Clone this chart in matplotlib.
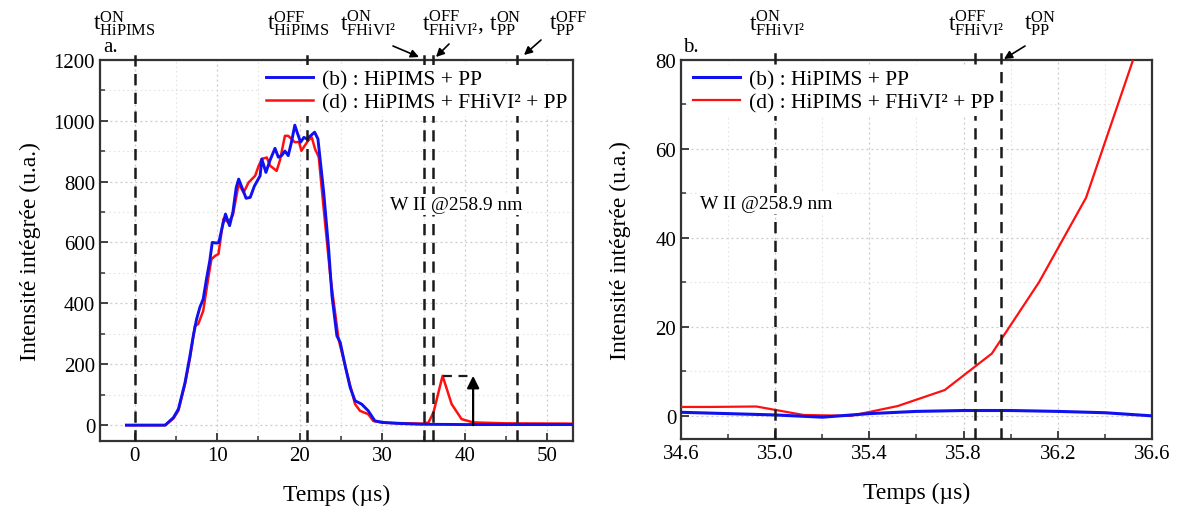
import matplotlib
matplotlib.use("Agg")
import matplotlib.pyplot as plt
from matplotlib.ticker import MultipleLocator, FixedLocator, FormatStrFormatter

plt.rcParams['font.family'] = ['Liberation Serif', 'DejaVu Serif']
plt.rcParams['mathtext.fontset'] = 'custom'
plt.rcParams['mathtext.rm'] = 'Liberation Serif'
plt.rcParams['mathtext.it'] = 'Liberation Serif:italic'

# ---------------- data: panel a ----------------
t_b = [-1.0, 3.7, 4.7, 5.3, 6.1, 6.7, 7.1, 7.5, 7.9, 8.3, 8.7, 9.1, 9.4, 9.9, 10.2, 10.6,
       11.0, 11.5, 11.9, 12.3, 12.6, 13.0, 13.5, 14.0, 14.5, 15.2, 15.4, 15.9, 16.4, 17.0,
       17.4, 17.8, 18.2, 18.6, 19.0, 19.4, 19.7, 20.1, 20.5, 20.85, 21.3, 21.8, 22.2, 22.9,
       23.5, 23.9, 24.5, 24.9, 25.5, 26.1, 26.7, 27.5, 28.3, 29.1, 30.1, 31.7, 34.6, 40.0, 53.0]
i_b = [0, 0, 25, 53, 140, 228, 293, 348, 387, 414, 480, 540, 600, 598, 600, 650,
       693, 655, 700, 780, 808, 780, 745, 748, 785, 819, 874, 830, 870, 909,
       880, 885, 900, 885, 930, 985, 960, 929, 945, 940, 950, 962, 940, 764,
       578, 425, 293, 272, 195, 124, 80, 69, 47, 14, 9, 6, 3, 2, 2]

t_d = [-1.0, 3.7, 4.7, 5.3, 6.1, 6.7, 7.3, 7.7, 8.3, 8.9, 9.3, 9.75, 10.15, 10.75, 11.36,
       11.9, 12.6, 13.2, 13.8, 14.6, 15.0, 15.4, 16.0, 16.4, 17.2, 17.6, 18.2, 18.6, 19.4,
       19.9, 20.2, 21.0, 21.45, 21.85, 22.3, 22.9, 23.7, 24.7, 25.7, 26.7, 27.3, 28.3, 28.9,
       30.0, 35.0, 35.6, 36.2, 37.3, 38.4, 39.6, 41.0, 45.0, 53.0]
i_d = [0, 0, 22, 48, 135, 220, 326, 332, 375, 480, 545, 556, 562, 677, 666,
       690, 792, 764, 797, 819, 850, 874, 879, 852, 835, 870, 950, 950, 929,
       930, 901, 934, 945, 907, 880, 710, 490, 282, 173, 69, 47, 36, 14,
       8, 5, 9, 42, 162, 69, 20, 9, 6, 5]

peak_level = 162
peak_span = [37.3, 41.0]

marks_a = [0.0, 20.85, 35.1, 36.2, 46.3]

# ---------------- data: panel b ----------------
t_b_zoom = [34.6, 35.0, 35.2, 35.4, 35.6, 35.8, 36.0, 36.2, 36.4, 36.6]
i_b_zoom = [0.8, 0.2, -0.3, 0.5, 1.0, 1.2, 1.2, 1.0, 0.7, 0.0]

t_d_zoom = [34.6, 34.72, 34.92, 35.12, 35.32, 35.52, 35.72, 35.92, 36.12, 36.32, 36.52, 36.72]
i_d_zoom = [2.0, 2.0, 2.1, 0.2, 0.0, 2.2, 5.8, 14.0, 30.0, 49.0, 80.0, 125.0]

marks_b = [35.0, 35.85, 35.96]
ticks_b = [34.6, 35.0, 35.4, 35.8, 36.2, 36.6]

label_b = '(b) : HiPIMS + PP'
label_d = '(d) : HiPIMS + FHiVI² + PP'
line_name = 'W II @258.9 nm'

W, H = 1178, 510
fig = plt.figure(figsize=(W / 100, H / 100), dpi=100)

def fx(px):
    return px / W

def fy(py):
    return 1 - py / H

axa = fig.add_axes([fx(100), fy(442), fx(573 - 100), (442 - 60.7) / H])
axb = fig.add_axes([fx(681), fy(440), fx(1152 - 681), (440 - 60.7) / H])

blue = '#1010F0'
red = '#FF1010'
spine_c = '#333333'

for ax in (axa, axb):
    for s in ax.spines.values():
        s.set_linewidth(1.6)
        s.set_color(spine_c)
    ax.tick_params(which='both', direction='in', top=False, right=False,
                   labelsize=15, color=spine_c)
    ax.tick_params(which='major', length=6, width=1.3)
    ax.tick_params(which='minor', length=3.5, width=1.1)
    ax.grid(True, which='major', linestyle=(0, (1.5, 2.5)), color='#c8c8c8', linewidth=0.9)
    ax.grid(True, which='minor', linestyle=(0, (1.5, 2.5)), color='#e4e4e4', linewidth=0.8)
    ax.set_axisbelow(True)
    ax.set_xlabel('Temps (µs)', fontsize=17, labelpad=14)
    ax.set_ylabel('Intensité intégrée (u.a.)', fontsize=17)

axa.yaxis.set_label_coords((41 - 100) / 473, 0.5)
axb.yaxis.set_label_coords((631 - 681) / 471, 0.5)

leg_kw = dict(loc='upper left', frameon=True, fancybox=False, framealpha=1.0,
              facecolor='white', edgecolor='none', fontsize=15.5, handlelength=2.2,
              borderaxespad=0.25, borderpad=0.2, labelspacing=0.12, handletextpad=0.4)

# panel a
axa.plot(t_b, i_b, color=blue, lw=2.1, label=label_b, zorder=4)
axa.plot(t_d, i_d, color=red, lw=1.8, label=label_d, zorder=3)
axa.set_xlim(-4.2, 53.1)
axa.set_ylim(-52, 1200)
axa.xaxis.set_major_locator(MultipleLocator(10))
axa.xaxis.set_minor_locator(MultipleLocator(5))
axa.yaxis.set_major_locator(MultipleLocator(200))
axa.yaxis.set_minor_locator(MultipleLocator(100))
for m in marks_a:
    axa.axvline(m, ymin=0, ymax=1.025, color='#1a1a1a', lw=1.8,
                linestyle=(0, (4.5, 3)), clip_on=False, zorder=5)
axa.plot(peak_span, [peak_level, peak_level], color='#1a1a1a', lw=1.6,
         linestyle=(0, (4, 3)), zorder=5)
axa.annotate('', xy=(peak_span[1], peak_level), xytext=(peak_span[1], 0),
             arrowprops=dict(arrowstyle='-|>', color='black', lw=1.6,
                             mutation_scale=18, shrinkA=0, shrinkB=0), zorder=6)
lega = axa.legend(bbox_to_anchor=(0.33, 1.0), **leg_kw)
lega.set_zorder(10)
axa.text(0.613, 0.62, line_name, transform=axa.transAxes, fontsize=14,
         va='center', ha='left', zorder=8,
         bbox=dict(facecolor='white', edgecolor='none', pad=1.5))

# panel b
axb.plot(t_b_zoom, i_b_zoom, color=blue, lw=2.2, label=label_b, zorder=4)
axb.plot(t_d_zoom, i_d_zoom, color=red, lw=1.6, label=label_d, zorder=3)
axb.set_xlim(34.6, 36.6)
axb.set_ylim(-5.2, 80)
axb.xaxis.set_major_locator(FixedLocator(ticks_b))
axb.xaxis.set_minor_locator(MultipleLocator(0.2))
axb.xaxis.set_major_formatter(FormatStrFormatter('%.1f'))
axb.yaxis.set_major_locator(MultipleLocator(20))
axb.yaxis.set_minor_locator(MultipleLocator(10))
for m in marks_b:
    axb.axvline(m, ymin=0, ymax=1.028, color='#1a1a1a', lw=1.8,
                linestyle=(0, (4.5, 3)), clip_on=False, zorder=5)
legb = axb.legend(bbox_to_anchor=(0.005, 1.0), **leg_kw)
legb.set_zorder(10)
axb.text(0.04, 0.62, line_name, transform=axb.transAxes, fontsize=14,
         va='center', ha='left', zorder=8,
         bbox=dict(facecolor='white', edgecolor='none', pad=1.5))

# panel letters
fig.text(fx(103), fy(47), 'a.', fontsize=15, va='center', ha='left')
fig.text(fx(683), fy(47), 'b.', fontsize=15, va='center', ha='left')

# top labels
def tl(sup, sub):
    return r'$\mathrm{t}^{\mathrm{' + sup + r'}}_{\mathrm{' + sub + r'}}$'

top_labels = [
    (124, tl('ON', 'HiPIMS')),
    (298, tl('OFF', 'HiPIMS')),
    (368, tl('ON', 'FHiVI²')),
    (472, tl('OFF', 'FHiVI²') + ', ' + tl('ON', 'PP')),
    (568, tl('OFF', 'PP')),
    (777, tl('ON', 'FHiVI²')),
    (976, tl('OFF', 'FHiVI²')),
    (1040, tl('ON', 'PP')),
]
for x, s in top_labels:
    fig.text(fx(x), fy(24), s, fontsize=17, ha='center', va='center')

arrows = [((393, 47), (419, 58)), ((449, 45), (436, 58)),
          ((541, 41), (524, 56)), ((1025, 47), (1004, 60))]
for (x0, y0), (x1, y1) in arrows:
    fig.add_artist(matplotlib.patches.FancyArrowPatch(
        (fx(x0), fy(y0)), (fx(x1), fy(y1)), transform=fig.transFigure,
        arrowstyle='-|>', mutation_scale=12, color='black', lw=1.2,
        shrinkA=0, shrinkB=0))

fig.savefig('out.png', dpi=100)
